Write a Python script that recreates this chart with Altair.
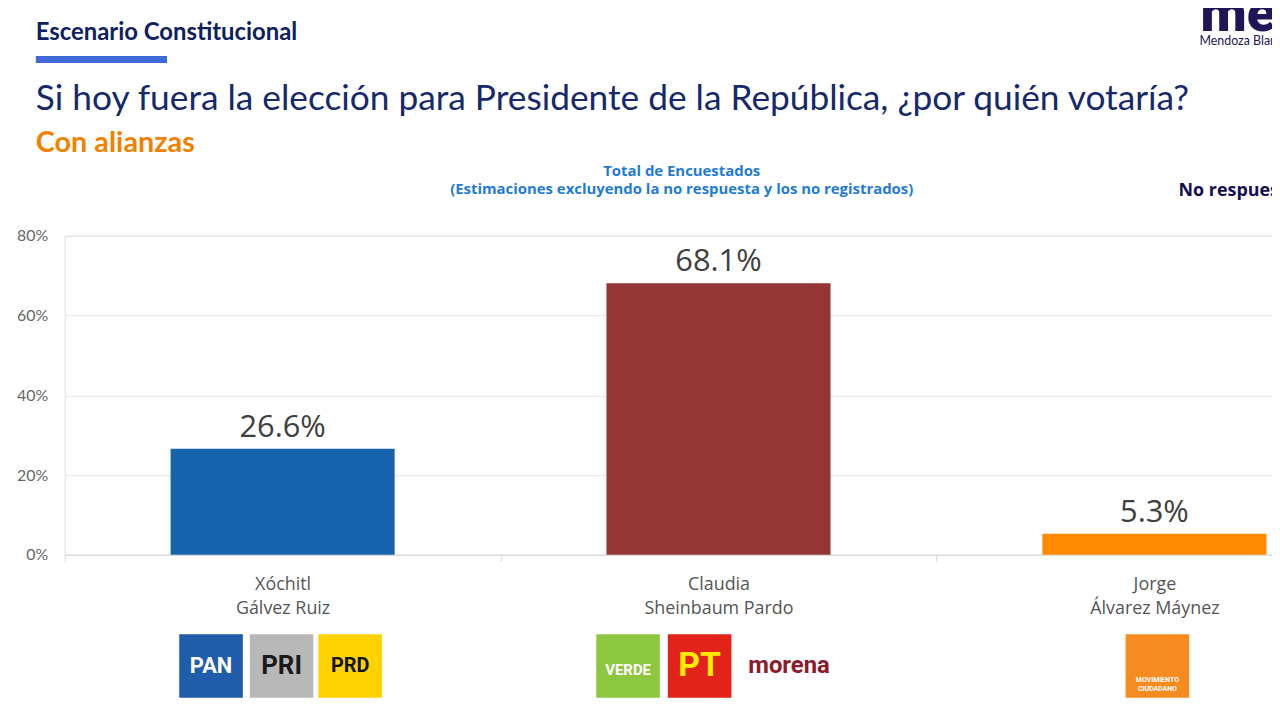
import altair as alt
import pandas as pd

# ---- data ----
candidates = ["Xóchitl|Gálvez Ruiz", "Claudia|Sheinbaum Pardo", "Jorge|Álvarez Máynez"]
shares = [0.266, 0.681, 0.053]
bar_colors = ["#1764AE", "#933635", "#FF8A00"]

logo_cat = [candidates[0], candidates[0], candidates[0],
            candidates[1], candidates[1], candidates[1],
            candidates[2]]
logo_text = ["PAN", "PRI", "PRD", "VERDE", "PT", "morena", "MOVIMIENTO\nCIUDADANO"]
logo_fill = ["#1F5CA9", "#B8B8B8", "#FFD200", "#8DC63F", "#E2231A", "#FFFFFF", "#F68B1F"]
logo_ink = ["#FFFFFF", "#1A1A1A", "#111111", "#FFFFFF", "#FFEB00", "#8B1A2B", "#FFFFFF"]
logo_dx = [-72, -1, 68, -91, -19, 71, 3]   # style: horizontal offset from band centre
logo_dy = [0, 0, 0, 4, 0, 0, 14]            # style: vertical nudge of the logo text
logo_fs = [22, 26, 20, 15, 34, 24, 7]

W, H = 1215, 321
bars_df = pd.DataFrame({"cand": candidates, "share": shares})

x_enc = alt.X(
    "cand:N", sort=candidates, title=None,
    scale=alt.Scale(domain=candidates, range=[0, 1316], paddingInner=0, paddingOuter=0),
    axis=alt.Axis(
        labelExpr="split(datum.label, '|')", labelAngle=0, labelFont="Open Sans",
        labelFontSize=18, labelColor="#555555", labelLineHeight=24, labelPadding=14,
        tickBand="extent", tickSize=7, tickColor="#D9D9D9", domainColor="#D9D9D9",
        labelBaseline="top"),
)
y_enc = alt.Y(
    "share:Q", title=None,
    scale=alt.Scale(domain=[0, 0.8]),
    axis=alt.Axis(values=[0, 0.2, 0.4, 0.6, 0.8], format=".0%", labelFont="Lato",
                  labelFontSize=16, labelColor="#666666", labelPadding=17, ticks=False,
                  domain=False, gridColor="#E3E3E3"),
)

base = alt.Chart(bars_df)
bars = base.mark_bar(width=alt.RelativeBandSize(0.514)).encode(
    x=x_enc, y=y_enc,
    color=alt.Color("cand:N", scale=alt.Scale(domain=candidates, range=bar_colors), legend=None),
)
labels = base.mark_text(dy=-12, baseline="alphabetic", font="Open Sans", fontSize=31,
                        color="#404040").encode(
    x=alt.X("cand:N", sort=candidates), y="share:Q",
    text=alt.Text("share:Q", format=".1%"),
)

# ---- header texts ----
def txt(t, x, y, size, color, weight="normal", font="Lato", align="left"):
    return alt.Chart(pd.DataFrame({"t": [t]})).mark_text(
        align=align, baseline="alphabetic", fontSize=size, color=color,
        fontWeight=weight, font=font).encode(
        x=alt.value(x), y=alt.value(y), text="t:N")

OX, OY = 65, 235  # plot origin on page
headers = [
    txt("Escenario Constitucional", 36 - OX, 38 - OY, 24, "#0D2160", "bold"),
    txt("Si hoy fuera la elección para Presidente de la República, ¿por quién votaría?",
        36 - OX, 108 - OY, 35.5, "#15296B"),
    txt("Con alianzas", 36 - OX, 151 - OY, 29, "#F08200", "bold"),
    txt("Total de Encuestados", 686 - OX, 175 - OY, 15, "#1F7BD6", "bold",
        font="Open Sans", align="center"),
    txt("(Estimaciones excluyendo la no respuesta y los no registrados)", 686 - OX, 193 - OY,
        15, "#1F7BD6", "bold", font="Open Sans", align="center"),
    txt("No respuesta", 1186 - OX, 195 - OY, 18, "#131050", "bold", font="Open Sans"),
    txt("me", 1208 - OX, 29 - OY, 54, "#1E1656", 900, font="Roboto"),
    txt("Mendoza Blanco", 1207 - OX, 43 - OY, 12.5, "#1E1656"),
]
underline = alt.Chart(pd.DataFrame({"a": [0]})).mark_rect(color="#4169D8").encode(
    x=alt.value(36 - OX), x2=alt.value(168 - OX), y=alt.value(54 - OY), y2=alt.value(61 - OY))

# ---- party logos (approximations) ----
logos_df = pd.DataFrame({"cand": logo_cat, "t": logo_text, "fill": logo_fill, "ink": logo_ink})
logo_layers = []
for i in range(len(logo_text)):
    d = alt.Chart(logos_df.iloc[[i]])
    if logo_fill[i] != "#FFFFFF":
        logo_layers.append(d.mark_square(size=64 * 64, opacity=1, xOffset=logo_dx[i],
                                         color=logo_fill[i]).encode(
            x=alt.X("cand:N", sort=candidates), y=alt.value(668 - OY)))
    logo_layers.append(d.mark_text(xOffset=logo_dx[i], fontSize=logo_fs[i],
                                   fontWeight="bold", font="Roboto", color=logo_ink[i],
                                   baseline="middle", lineBreak="\n").encode(
        x=alt.X("cand:N", sort=candidates), y=alt.value(668 - OY + logo_dy[i]),
        text="t:N"))

chart = alt.layer(bars, labels, underline, *headers, *logo_layers).properties(
    width=W, height=H,
    autosize=alt.AutoSizeParams(type="none"),
    padding={"left": OX - 8, "top": OY - 8, "right": 0, "bottom": 160},
).configure_view(stroke=None).configure(background="white")

chart.save("out.html", embed_options={"renderer": "svg", "actions": False})
